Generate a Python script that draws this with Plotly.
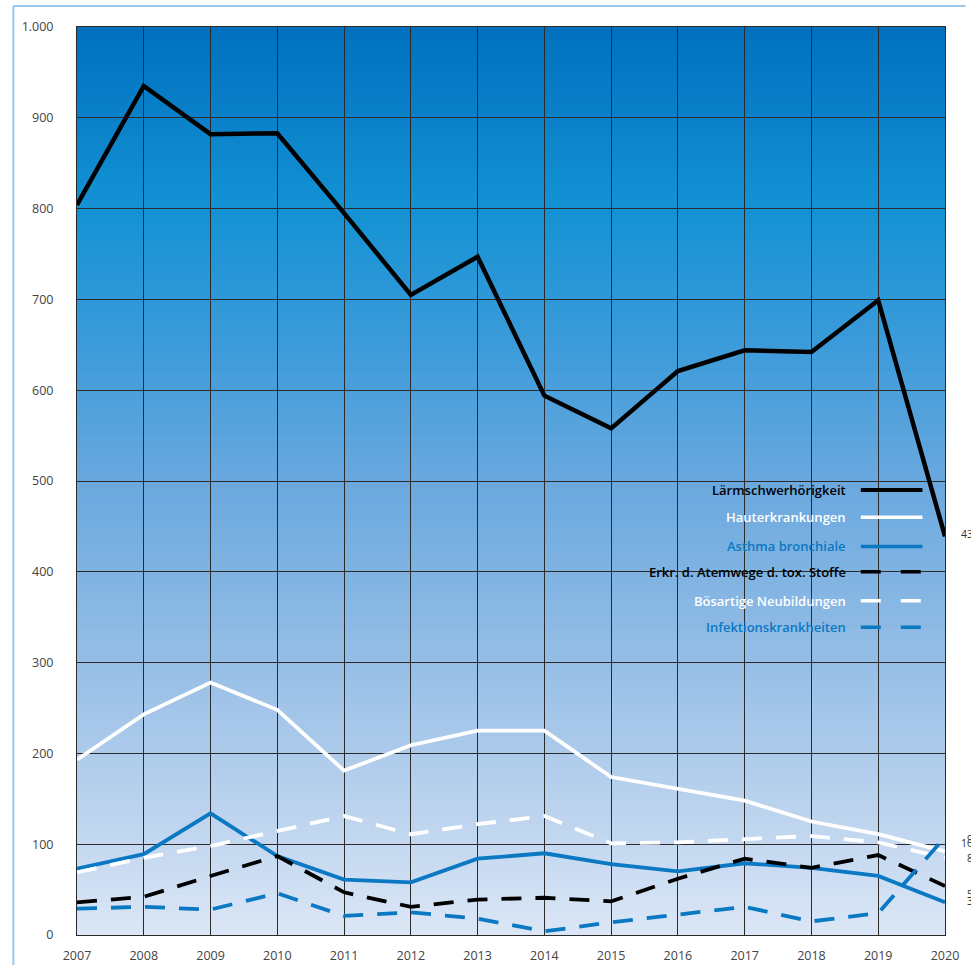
import plotly.graph_objects as go

years = list(range(2007, 2021))

laerm = [804, 935, 882, 883, 795, 705, 747, 594, 558, 621, 644, 642, 699, 439]
haut = [193, 243, 278, 248, 181, 209, 225, 225, 174, 161, 148, 125, 111, 92]
asthma = [73, 89, 134, 87, 61, 58, 84, 90, 78, 70, 79, 74, 65, 36]
atemwege = [36, 42, 65, 87, 47, 31, 39, 41, 37, 62, 84, 74, 88, 54]
boesartig = [69, 85, 98, 115, 131, 111, 122, 131, 101, 102, 105, 109, 102, 85]
infektion = [29, 31, 28, 46, 21, 25, 18, 4, 14, 22, 31, 15, 24, 108]

names = ["Lärmschwerhörigkeit", "Hauterkrankungen", "Asthma bronchiale",
         "Erkr. d. Atemwege d. tox. Stoffe", "Bösartige Neubildungen",
         "Infektionskrankheiten"]

y_tickvals = [0, 100, 200, 300, 400, 500, 600, 700, 800, 900, 1000]
y_ticktext = ["0", "100", "200", "300", "400", "500", "600", "700", "800", "900", "1.000"]

BLUE = "#0a78c2"
series = [
    (laerm, "black", "solid", 4.5),
    (haut, "white", "solid", 3.8),
    (asthma, BLUE, "solid", 3.8),
    (atemwege, "black", "20px,14px", 3.8),
    (boesartig, "white", "20px,14px", 3.8),
    (infektion, BLUE, "20px,14px", 3.8),
]

fig = go.Figure()
for (vals, col, dash, w), nm in zip(series, names):
    fig.add_trace(go.Scatter(x=years, y=vals, mode="lines", name=nm,
                             line=dict(color=col, width=w, dash=dash),
                             showlegend=False, hoverinfo="skip"))

# background gradient (plot area) drawn below gridlines
stops = [(0.0, (220, 231, 246)), (0.1, (196, 216, 240)), (0.3, (150, 190, 230)),
         (0.5, (105, 168, 222)), (0.65, (60, 155, 218)), (0.8, (20, 146, 212)),
         (1.0, (0, 112, 190))]

def col_at(t):
    for (a, ca), (b, cb) in zip(stops[:-1], stops[1:]):
        if a <= t <= b:
            f = (t - a) / (b - a)
            c = [round(ca[i] + (cb[i] - ca[i]) * f) for i in range(3)]
            return "rgb(%d,%d,%d)" % tuple(c)
    return "rgb(%d,%d,%d)" % stops[-1][1]

N = 200
shapes = []
for i in range(N):
    y0 = i / N
    y1 = min(1.0, (i + 1.6) / N)
    shapes.append(dict(type="rect", xref="paper", yref="paper", x0=0, x1=1,
                       y0=y0, y1=y1, fillcolor=col_at((i + 0.5) / N),
                       line=dict(width=0), layer="below"))

# outer light-blue frame (left and top edges), kept inside the figure bounds
shapes.append(dict(type="line", xref="paper", yref="paper",
                   x0=-0.0733, x1=-0.0733, y0=1.023, y1=-0.033,
                   line=dict(color="#9cc7ea", width=2)))
shapes.append(dict(type="line", xref="paper", yref="paper",
                   x0=-0.0733, x1=1.0235, y0=1.023, y1=1.023,
                   line=dict(color="#9cc7ea", width=2)))

# custom legend
leg_y = [0.490, 0.460, 0.428, 0.400, 0.368, 0.339]
annotations = []
for (vals, col, dash, w), nm, ly in zip(series, names, leg_y):
    annotations.append(dict(xref="paper", yref="paper", x=0.888, y=ly,
                            xanchor="right", yanchor="middle", text=nm,
                            showarrow=False,
                            font=dict(family="Open Sans", size=13, color=col, weight=600)))
    shapes.append(dict(type="line", xref="paper", yref="paper",
                       x0=0.903, x1=0.974, y0=ly, y1=ly,
                       line=dict(color=col, width=4 if w > 4 else 3.5,
                                 dash="solid" if dash == "solid" else "20px,20px")))

# end-of-line value labels (cut off at the right window edge, as in the original)
label_shift = [2, 12, 1, -8, 0, -6]
for (vals, col, dash, w), sh in zip(series, label_shift):
    annotations.append(dict(xref="x", yref="y", x=years[-1], y=vals[-1],
                            xanchor="right", yanchor="middle", xshift=36, yshift=sh,
                            text=str(vals[-1]), showarrow=False,
                            font=dict(family="Open Sans", size=10.5, color="#333333")))

fig.update_layout(
    width=971, height=976,
    margin=dict(l=77, r=21, t=27, b=31),
    paper_bgcolor="white", plot_bgcolor="rgba(0,0,0,0)",
    shapes=shapes, annotations=annotations,
    font=dict(family="Open Sans", size=12, color="#444444"),
    xaxis=dict(range=[2007, 2020], tickvals=years, ticktext=[str(y) for y in years],
               showgrid=True, gridcolor="#2b2b2b", gridwidth=1,
               zeroline=False, showline=True, linecolor="#2b2b2b", linewidth=1,
               mirror=True, ticks="", ticklabelstandoff=9,
               tickfont=dict(size=12.5, color="#444444")),
    yaxis=dict(range=[0, 1000], tickvals=y_tickvals, ticktext=y_ticktext,
               showgrid=True, gridcolor="#2b2b2b", gridwidth=1,
               zeroline=False, showline=True, linecolor="#2b2b2b", linewidth=1,
               mirror=True, ticks="", ticklabelstandoff=20,
               tickfont=dict(size=12.5, color="#444444")),
)

fig.write_html("out.html", config={"displayModeBar": False},
               post_script=("document.documentElement.style.overflow='hidden';"
                            "document.body.style.overflow='hidden';"
                            "document.body.style.margin='0';"))
